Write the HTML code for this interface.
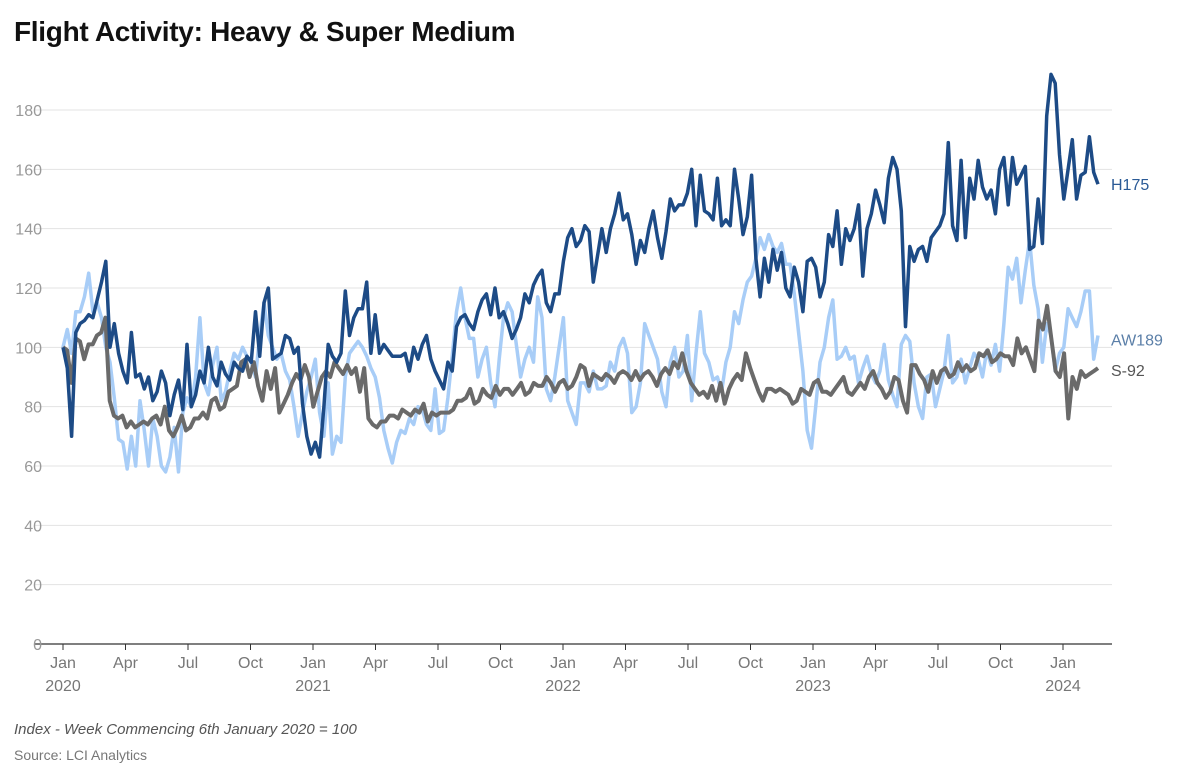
<!DOCTYPE html>
<html><head><meta charset="utf-8"><style>
body{margin:0;background:#fff;font-family:"Liberation Sans",sans-serif;}
#wrap{position:relative;width:1200px;height:768px;overflow:hidden;}
.t{position:absolute;white-space:nowrap;}
</style></head><body>
<div id="wrap">
<div class="t" style="left:14px;top:16px;font-size:28px;font-weight:bold;color:#111;letter-spacing:-0.3px">Flight Activity: Heavy &amp; Super Medium</div>
<svg id="chart" width="1200" height="768" style="position:absolute;left:0;top:0"></svg>
<div class="t" style="left:14px;top:721px;font-size:15px;font-style:italic;color:#555">Index - Week Commencing 6th January 2020 = 100</div>
<div class="t" style="left:14px;top:747px;font-size:14px;color:#777">Source: LCI Analytics</div>
</div>
<script>
const yTicks=[0,20,40,60,80,100,120,140,160,180];
const xTickLabels=["Jan","Apr","Jul","Oct","Jan","Apr","Jul","Oct","Jan","Apr","Jul","Oct","Jan","Apr","Jul","Oct","Jan"];
const yearLabels=["2020","2021","2022","2023","2024"];
const h175=[100,93,70,105,108,109,111,110,116,122,129,100,108,98,92,88,105,90,91,86,90,82,85,92,88,77,84,89,79,101,80,84,92,88,100,90,87,95,91,89,95,93,92,97,95,112,97,115,120,96,97,98,104,103,98,100,81,70,64,68,63,80,101,97,95,98,119,104,110,113,113,122,98,111,98,101,99,97,97,97,98,92,100,96,101,104,96,92,89,86,95,92,107,110,111,108,106,112,116,118,111,120,110,112,108,103,106,110,118,115,121,124,126,115,112,118,118,129,137,140,134,136,141,139,122,131,140,132,140,145,152,143,145,138,128,136,132,140,146,137,130,139,150,146,148,148,152,160,141,158,146,145,143,157,141,143,141,160,150,138,144,158,130,117,130,122,133,126,132,120,117,127,122,112,129,130,127,117,122,138,134,146,128,140,136,140,148,124,140,145,153,148,142,157,164,160,146,107,134,129,133,134,129,137,139,141,145,169,141,136,163,137,157,150,163,154,150,153,145,160,164,148,164,155,158,161,133,134,150,135,178,192,189,165,150,160,170,150,158,159,171,159,155];
const aw189=[100,106,98,112,112,117,125,112,115,110,100,95,83,69,68,59,70,60,82,72,60,76,70,60,58,63,73,58,78,83,80,90,110,88,84,94,100,82,85,92,98,96,100,97,95,90,104,115,104,100,96,98,92,89,80,70,78,85,90,96,78,70,88,64,70,68,90,98,100,102,100,97,93,90,83,72,66,61,68,72,71,76,74,80,79,74,72,86,71,72,83,97,112,120,110,103,103,90,96,100,88,80,96,110,115,112,101,90,96,100,95,117,110,86,82,90,100,110,82,78,74,88,88,85,92,86,86,87,95,92,100,103,98,78,80,88,108,104,100,96,85,80,95,100,90,92,104,82,98,112,98,95,89,90,85,95,100,112,108,116,122,124,130,137,133,138,134,132,135,128,128,118,105,92,72,66,80,95,100,110,116,96,97,100,96,97,88,93,97,91,88,92,101,89,84,80,101,104,102,88,80,76,90,91,80,86,92,104,88,90,96,88,93,98,96,90,99,94,101,92,108,127,123,130,115,126,136,121,113,95,108,104,92,98,100,113,110,107,112,119,119,96,104];
const s92=[100,99,88,103,102,96,101,101,104,105,110,82,77,76,77,73,75,73,74,75,74,76,77,74,80,72,70,73,77,72,73,76,76,78,76,82,83,79,80,85,86,87,95,96,90,95,87,82,92,86,93,78,81,84,88,91,89,94,90,80,85,90,92,90,95,93,91,94,91,93,85,93,76,74,73,75,75,77,77,76,79,78,77,79,78,81,75,78,77,78,78,78,79,82,82,83,86,81,82,86,84,83,87,84,86,86,84,86,88,84,85,88,87,87,90,88,85,88,89,86,87,90,94,93,87,91,90,89,91,90,88,91,92,91,89,92,89,91,92,90,87,91,93,91,95,93,98,92,88,86,84,85,83,87,82,88,81,86,89,91,89,98,93,89,85,82,86,86,85,86,85,84,81,82,86,85,84,88,89,85,85,84,86,88,90,85,84,86,88,86,90,92,88,86,83,85,90,89,82,78,94,94,91,89,85,92,88,92,93,90,91,95,92,94,92,93,98,97,99,95,96,98,97,97,94,103,98,100,96,92,109,106,114,103,92,90,98,76,90,86,92,90,91,92,93];
const seriesNames=["H175","AW189","S-92"];
const seriesColors=["#1d4b86","#a8cdf7","#6a6a6a"];
const endLabelColors=["#2a5a96","#5b7fa8","#555"];

const svg=document.getElementById('chart');
const NS='http://www.w3.org/2000/svg';
const X0=63,X1=1098,Y0=644,YPER=(644-110)/180;
const yS=v=>Y0-v*YPER;
function mk(tag,attrs){const e=document.createElementNS(NS,tag);for(const k in attrs)e.setAttribute(k,attrs[k]);svg.appendChild(e);return e;}
yTicks.forEach(v=>{
  const g=mk('line',{x1:35,x2:1112,y1:yS(v),y2:yS(v),stroke:v===0?'#333':'#e3e3e3','stroke-width':v===0?1.2:1});
  
  
  const t=mk('text',{x:42,y:yS(v)+6,'text-anchor':'end','font-size':16,fill:'#999','font-family':'Liberation Sans, sans-serif'});
  t.textContent=v;
  
  
});
const QSTEP=1000/16;
xTickLabels.forEach((l,i)=>{
  const x=X0+i*QSTEP;
  const tk=mk('line',{x1:x,x2:x,y1:644,y2:650,stroke:'#333','stroke-width':1});
  
  
  const t=mk('text',{x:x,y:668,'text-anchor':'middle','font-size':16,fill:'#777','font-family':'Liberation Sans, sans-serif'});
  t.textContent=l;
  
  
});
yearLabels.forEach((l,i)=>{
  const t=mk('text',{x:X0+i*4*QSTEP,y:691,'text-anchor':'middle','font-size':16,fill:'#777','font-family':'Liberation Sans, sans-serif'});
  t.textContent=l;
  
  
});
const data=[h175,aw189,s92];
[1,2,0].forEach(si=>{
  const arr=data[si];const n=arr.length;
  const xS=i=>X0+i*(X1-X0)/(n-1);
  const d=arr.map((v,i)=>(i?'L':'M')+xS(i).toFixed(1)+' '+yS(v).toFixed(1)).join(' ');
  const p=mk('path',{d:d,fill:'none',stroke:seriesColors[si],'stroke-width':si===2?4:3.5,'stroke-linejoin':'round'});
  
  
});
const endOffsets=[0,4,2];
data.forEach((arr,si)=>{
  const t=mk('text',{x:1111,y:yS(arr[arr.length-1])+6+endOffsets[si],'font-size':16,fill:endLabelColors[si],'font-family':'Liberation Sans, sans-serif'});
  t.textContent=seriesNames[si];
  
  
});
</script>
</body></html>
